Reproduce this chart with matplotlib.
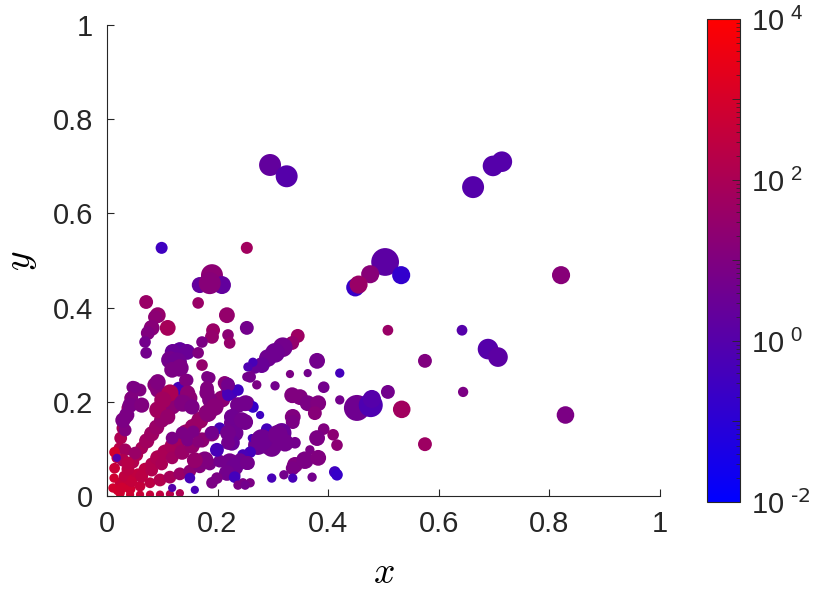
import numpy as np
import matplotlib
matplotlib.use('Agg')
import matplotlib.pyplot as plt
from matplotlib.colors import LinearSegmentedColormap, LogNorm
from matplotlib.ticker import FixedLocator, FixedFormatter

plt.rcParams.update({
    'font.family': 'Liberation Sans',
    'font.size': 21,
    'xtick.direction': 'in',
    'ytick.direction': 'in',
    'axes.edgecolor': '#262626',
    'xtick.color': '#262626',
    'ytick.color': '#262626',
    'text.color': '#262626',
})

# outer / isolated points
x_far = [0.295, 0.325, 0.662, 0.698, 0.714, 0.503, 0.532, 0.476, 0.449, 0.455,
         0.821, 0.508, 0.642, 0.575, 0.644, 0.689, 0.707, 0.829, 0.533, 0.575,
         0.452, 0.477, 0.479, 0.099, 0.253, 0.190, 0.168, 0.208, 0.186]
y_far = [0.703, 0.679, 0.656, 0.701, 0.710, 0.497, 0.469, 0.471, 0.443, 0.449,
         0.469, 0.352, 0.352, 0.287, 0.221, 0.312, 0.295, 0.172, 0.184, 0.110,
         0.187, 0.193, 0.206, 0.527, 0.527, 0.469, 0.448, 0.448, 0.452]
s_far = [250, 250, 250, 220, 220, 400, 170, 170, 170, 170,
         170, 60, 60, 100, 55, 220, 200, 160, 160, 100,
         350, 300, 170, 75, 75, 250, 133, 168, 250]
v_far = [2, 1, 1, 1, 1, 1.5, 0.15, 15, 0.2, 40,
         15, 40, 1, 10, 8, 1, 1.5, 8, 60, 50,
         4, 0.7, 1, 0.3, 60, 20, 2, 2, 15]

# middle band, 0.1 < x < 0.45
x_mid = [0.071, 0.165, 0.092, 0.087, 0.110, 0.081, 0.074, 0.069, 0.217, 0.192,
         0.190, 0.172, 0.219, 0.222, 0.071, 0.132, 0.119, 0.145, 0.114, 0.127,
         0.132, 0.118, 0.165, 0.172, 0.186, 0.141, 0.092, 0.051, 0.213, 0.181,
         0.253, 0.345, 0.335, 0.318, 0.304, 0.291, 0.280, 0.268, 0.264, 0.255,
         0.259, 0.271, 0.380, 0.331, 0.363, 0.421, 0.304, 0.392, 0.508, 0.421,
         0.335, 0.349, 0.363, 0.382, 0.376, 0.336, 0.336, 0.392, 0.380, 0.409,
         0.416, 0.367, 0.340, 0.358, 0.382, 0.336, 0.412, 0.416, 0.371, 0.336,
         0.320, 0.298, 0.237, 0.264, 0.277, 0.304, 0.316, 0.286, 0.273, 0.298,
         0.289, 0.262, 0.250, 0.226, 0.231, 0.226, 0.259, 0.246, 0.255, 0.241,
         0.226, 0.231, 0.246, 0.259, 0.340, 0.181, 0.219, 0.219, 0.195, 0.183,
         0.237, 0.250, 0.226, 0.244, 0.204, 0.190, 0.219, 0.280, 0.309, 0.322,
         0.165, 0.219, 0.199, 0.177, 0.159, 0.222, 0.231, 0.217, 0.231, 0.253,
         0.199, 0.190, 0.237, 0.250, 0.253]
y_mid = [0.412, 0.410, 0.384, 0.380, 0.357, 0.357, 0.346, 0.327, 0.384, 0.352,
         0.338, 0.327, 0.342, 0.325, 0.304, 0.310, 0.306, 0.306, 0.289, 0.284,
         0.272, 0.268, 0.304, 0.278, 0.251, 0.246, 0.242, 0.231, 0.240, 0.253,
         0.357, 0.340, 0.325, 0.316, 0.304, 0.293, 0.278, 0.272, 0.284, 0.274,
         0.253, 0.236, 0.287, 0.259, 0.261, 0.261, 0.234, 0.231, 0.221, 0.204,
         0.214, 0.210, 0.197, 0.197, 0.176, 0.168, 0.157, 0.142, 0.123, 0.130,
         0.108, 0.098, 0.066, 0.076, 0.081, 0.059, 0.051, 0.045, 0.040, 0.038,
         0.045, 0.038, 0.225, 0.189, 0.172, 0.125, 0.134, 0.113, 0.108, 0.104,
         0.142, 0.123, 0.157, 0.155, 0.134, 0.113, 0.093, 0.087, 0.070, 0.076,
         0.055, 0.045, 0.028, 0.028, 0.113, 0.229, 0.236, 0.214, 0.189, 0.176,
         0.193, 0.197, 0.168, 0.161, 0.144, 0.134, 0.134, 0.119, 0.130, 0.113,
         0.115, 0.113, 0.098, 0.076, 0.076, 0.072, 0.062, 0.049, 0.040, 0.070,
         0.038, 0.028, 0.023, 0.023, 0.253]
s_mid = [100, 70, 130, 100, 130, 130, 100, 70, 130, 100,
         100, 70, 70, 70, 70, 130, 130, 130, 160, 200,
         160, 130, 70, 70, 70, 70, 130, 70, 100, 70,
         100, 100, 100, 200, 200, 160, 130, 70, 45, 45,
         70, 45, 130, 35, 35, 45, 45, 70, 100, 45,
         130, 130, 130, 130, 100, 130, 100, 70, 130, 70,
         70, 45, 130, 160, 130, 100, 70, 70, 45, 45,
         45, 45, 70, 70, 35, 240, 200, 240, 200, 200,
         70, 35, 130, 130, 160, 130, 70, 70, 100, 100,
         100, 70, 45, 45, 70, 100, 100, 70, 160, 160,
         130, 130, 130, 130, 70, 100, 130, 240, 200, 160,
         70, 100, 100, 160, 130, 160, 160, 130, 70, 100,
         70, 70, 45, 45, 45]
v_mid = [40, 40, 30, 20, 80, 15, 10, 5, 30, 40,
         30, 8, 20, 30, 5, 2, 3, 3, 5, 4,
         8, 8, 10, 30, 8, 10, 10, 8, 15, 8,
         5, 50, 30, 5, 4, 4, 3, 3, 0.5, 0.7,
         5, 8, 5, 8, 5, 0.4, 5, 5, 5, 5,
         10, 10, 8, 10, 15, 10, 8, 10, 8, 20,
         20, 8, 10, 8, 10, 8, 0.3, 0.2, 5, 0.5,
         5, 0.5, 0.3, 0.2, 0.3, 4, 3, 3, 4, 5,
         0.4, 0.5, 5, 5, 4, 3, 0.4, 0.5, 5, 4,
         5, 5, 8, 8, 5, 10, 5, 0.5, 15, 15,
         5, 5, 4, 5, 0.5, 5, 5, 4, 5, 5,
         15, 5, 0.5, 10, 30, 5, 4, 5, 0.4, 5,
         8, 8, 8, 5, 5]

# dense corner near the origin
x_core = [0.020, 0.033, 0.043, 0.056, 0.069, 0.081, 0.092, 0.105, 0.118, 0.130,
          0.143, 0.156, 0.168, 0.181, 0.193, 0.208, 0.222,
          0.024, 0.031, 0.038, 0.047, 0.054, 0.063, 0.072, 0.081, 0.090, 0.099,
          0.108, 0.118, 0.127,
          0.011, 0.013, 0.014, 0.018, 0.022, 0.025, 0.029, 0.034, 0.038, 0.043,
          0.024, 0.042, 0.060, 0.078, 0.096, 0.114, 0.132, 0.150, 0.168, 0.186,
          0.204,
          0.027, 0.045, 0.063, 0.081, 0.099, 0.118, 0.136, 0.154, 0.172, 0.190,
          0.042, 0.060, 0.078, 0.096, 0.114, 0.132,
          0.033, 0.051, 0.029, 0.038, 0.014, 0.018,
          0.047, 0.060, 0.045, 0.047, 0.087, 0.092, 0.130, 0.114, 0.101, 0.145,
          0.146, 0.150, 0.146, 0.181, 0.186, 0.217, 0.222, 0.253, 0.042, 0.063,
          0.092, 0.110, 0.137, 0.154, 0.033, 0.029, 0.036, 0.118, 0.136, 0.146,
          0.156, 0.150, 0.159, 0.118]
y_core = [0.013, 0.023, 0.034, 0.045, 0.057, 0.068, 0.081, 0.093, 0.106, 0.119,
          0.134, 0.146, 0.161, 0.176, 0.191, 0.206, 0.221,
          0.028, 0.042, 0.057, 0.072, 0.087, 0.102, 0.117, 0.132, 0.146, 0.161,
          0.176, 0.191, 0.206,
          0.017, 0.038, 0.059, 0.081, 0.102, 0.123, 0.144, 0.166, 0.187, 0.208,
          0.006, 0.015, 0.021, 0.028, 0.034, 0.040, 0.047, 0.053, 0.062, 0.068,
          0.074,
          0.017, 0.030, 0.042, 0.055, 0.068, 0.081, 0.093, 0.106, 0.119, 0.132,
          0.003, 0.003, 0.003, 0.003, 0.004, 0.006,
          0.098, 0.091, 0.076, 0.070, 0.093, 0.081,
          0.231, 0.225, 0.210, 0.197, 0.236, 0.225, 0.229, 0.219, 0.204, 0.246,
          0.219, 0.208, 0.197, 0.219, 0.204, 0.236, 0.219, 0.197, 0.193, 0.193,
          0.183, 0.168, 0.197, 0.189, 0.140, 0.161, 0.172, 0.123, 0.134, 0.119,
          0.136, 0.038, 0.013, 0.017]
s_core = [60, 60, 85, 85, 85, 85, 120, 120, 120, 120,
          150, 150, 150, 150, 150, 150, 150,
          60, 60, 85, 85, 85, 85, 120, 120, 120, 120,
          150, 150, 150,
          45, 45, 60, 60, 60, 85, 85, 85, 85, 85,
          45, 60, 60, 60, 85, 85, 85, 85, 85, 85,
          85,
          60, 60, 85, 85, 85, 85, 120, 120, 120, 120,
          35, 35, 35, 35, 35, 35,
          85, 85, 85, 85, 60, 35,
          85, 85, 85, 85, 120, 120, 85, 150, 150, 85,
          120, 120, 120, 120, 120, 120, 120, 120, 120, 120,
          150, 120, 150, 120, 85, 120, 120, 85, 85, 85,
          85, 60, 35, 35]
v_core = [700, 500, 400, 300, 250, 150, 120, 100, 80, 60,
          50, 40, 40, 30, 30, 20, 15,
          400, 300, 250, 150, 120, 80, 60, 50, 40, 30,
          30, 20, 20,
          800, 700, 500, 300, 200, 120, 80, 50, 30, 20,
          800, 700, 400, 250, 150, 80, 40, 20, 12, 8,
          5,
          700, 400, 250, 150, 100, 60, 40, 30, 20, 15,
          700, 500, 400, 300, 200, 120,
          60, 40, 120, 200, 800, 1,
          8, 10, 10, 10, 15, 15, 0.5, 100, 60, 8,
          20, 20, 15, 10, 10, 5, 0.5, 5, 8, 10,
          60, 30, 10, 8, 10, 8, 8, 8, 8, 8,
          8, 0.5, 0.5, 1]

x_ticks = [0, 0.2, 0.4, 0.6, 0.8, 1]
x_ticklabels = ['0', '0.2', '0.4', '0.6', '0.8', '1']
cb_ticks = [1e-2, 1e-1, 1e0, 1e1, 1e2, 1e3, 1e4]
cb_ticklabels = [r'$\mathregular{10^{\ \text{-2}}}$', '', r'$\mathregular{10^{\ 0}}$', '',
                 r'$\mathregular{10^{\ 2}}$', '', r'$\mathregular{10^{\ 4}}$']

cmap = LinearSegmentedColormap.from_list('blue_red', ['#0000ff', '#ff0000'])
norm = LogNorm(vmin=1e-2, vmax=1e4)

fig = plt.figure(figsize=(8.22, 5.93), dpi=100)
ax = fig.add_axes([0.130, 0.1636, 0.673, 0.794])

for xs, ys, ss, vs in [(x_core, y_core, s_core, v_core),
                       (x_mid, y_mid, s_mid, v_mid),
                       (x_far, y_far, s_far, v_far)]:
    sc = ax.scatter(xs, ys, s=ss, c=vs, cmap=cmap, norm=norm, edgecolors='none')

ax.set_xlim(0, 1)
ax.set_ylim(0, 1)
ax.set_xticks(x_ticks)
ax.set_xticklabels(x_ticklabels)
ax.set_yticks(x_ticks)
ax.set_yticklabels(x_ticklabels)
ax.spines['top'].set_visible(False)
ax.spines['right'].set_visible(False)
ax.tick_params(length=5, width=0.8, pad=10)
ax.set_xlabel(r'$x$', fontsize=27, math_fontfamily='cm', labelpad=12)
ax.set_ylabel(r'$y$', fontsize=27, math_fontfamily='cm', labelpad=10)

cax = fig.add_axes([0.860, 0.1535, 0.040, 0.8145])
cb = fig.colorbar(sc, cax=cax)
cb.outline.set_edgecolor('#262626')
cb.outline.set_linewidth(0.8)
cax.yaxis.set_major_locator(FixedLocator(cb_ticks))
cax.yaxis.set_major_formatter(FixedFormatter(cb_ticklabels))
cax.tick_params(which='major', direction='in', length=6, width=0.6, pad=8)
cax.tick_params(which='minor', direction='in', length=3, width=0.5)

fig.savefig('out.png', dpi=100)
